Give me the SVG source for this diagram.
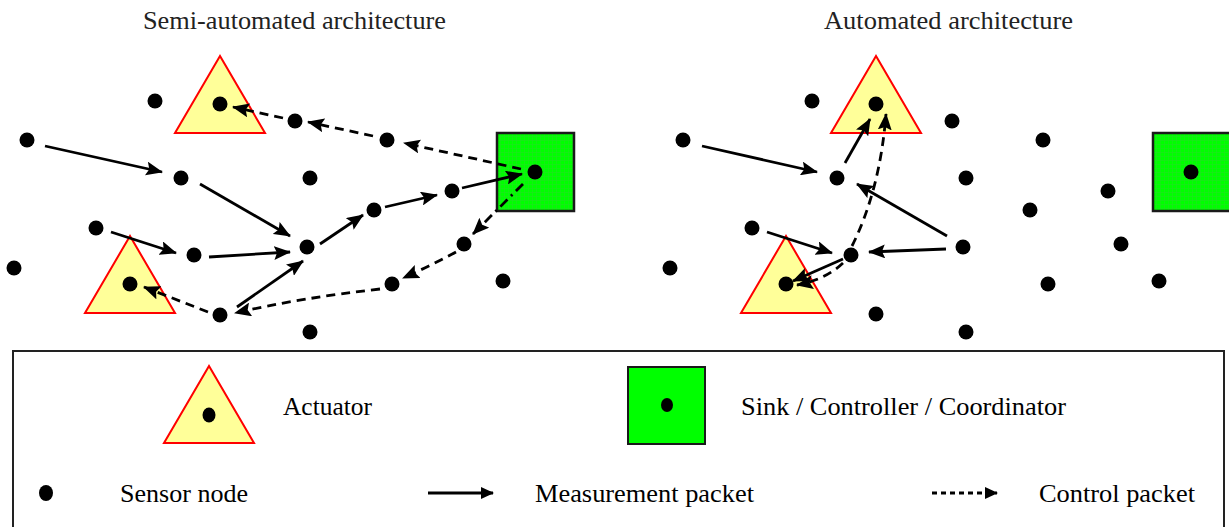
<svg xmlns="http://www.w3.org/2000/svg" width="1229" height="527" viewBox="0 0 1229 527">
<style>
text{font-family:"Liberation Serif","Times New Roman",serif}
.title{font-size:26px;fill:#222}
.lbl{font-size:26px;fill:#000}
.dot{fill:#000}
.act{fill:#ffff99;stroke:#ff0000;stroke-width:2}
.sink{fill:url(#grid);stroke:#1a1a1a;stroke-width:2.5}
.meas{fill:none;stroke:#000;stroke-width:2.8;marker-end:url(#ah)}
.ctrl{fill:none;stroke:#000;stroke-width:2.8;stroke-dasharray:9 6;marker-end:url(#ah)}
.ctrl2{fill:none;stroke:#000;stroke-width:2.8;stroke-dasharray:10 5 2 5;marker-end:url(#ah)}
</style>
<defs>
<pattern id="grid" width="4" height="4" patternUnits="userSpaceOnUse">
<rect width="4" height="4" fill="#00ff00"/>
<path d="M0,0.5H4M0.5,0V4" stroke="#22e022" stroke-width="0.6"/>
</pattern>
<marker id="ah" markerUnits="userSpaceOnUse" markerWidth="17" markerHeight="14" refX="16" refY="7" orient="auto">
<path d="M0,0 L17,7 L0,14 L3,7 z" fill="#000"/>
</marker>
<marker id="ahs" markerUnits="userSpaceOnUse" markerWidth="13" markerHeight="12" refX="12" refY="6" orient="auto">
<path d="M0,0 L13,6 L0,12 z" fill="#000"/>
</marker>
</defs>
<rect width="1229" height="527" fill="#fff"/>

<text class="title" x="143" y="29" textLength="303" lengthAdjust="spacingAndGlyphs">Semi-automated architecture</text>
<text class="title" x="824" y="29" textLength="249" lengthAdjust="spacingAndGlyphs">Automated architecture</text>

<!-- Left: semi-automated -->
<g id="left-actuator-top"><polygon class="act" points="220,56 175,133 265,133"/><circle class="dot" cx="220" cy="104" r="7.5"/></g>
<g id="left-actuator-bottom"><polygon class="act" points="130,236 85,313 175,313"/><circle class="dot" cx="130" cy="284" r="7.5"/></g>
<g id="left-sink"><rect class="sink" x="497" y="133" width="77" height="78"/><circle class="dot" cx="535" cy="172" r="7.5"/></g>
<g id="left-sensors">
<circle class="dot" cx="155" cy="101" r="7.5"/>
<circle class="dot" cx="27" cy="140" r="7.5"/>
<circle class="dot" cx="181" cy="178" r="7.5"/>
<circle class="dot" cx="96" cy="228" r="7.5"/>
<circle class="dot" cx="194" cy="255" r="7.5"/>
<circle class="dot" cx="14" cy="268" r="7.5"/>
<circle class="dot" cx="220" cy="315" r="7.5"/>
<circle class="dot" cx="295" cy="121" r="7.5"/>
<circle class="dot" cx="387" cy="140" r="7.5"/>
<circle class="dot" cx="310" cy="178" r="7.5"/>
<circle class="dot" cx="374" cy="210" r="7.5"/>
<circle class="dot" cx="452" cy="191" r="7.5"/>
<circle class="dot" cx="307" cy="247" r="7.5"/>
<circle class="dot" cx="464" cy="244" r="7.5"/>
<circle class="dot" cx="392" cy="284" r="7.5"/>
<circle class="dot" cx="503" cy="281" r="7.5"/>
<circle class="dot" cx="310" cy="332" r="7.5"/>
</g>

<!-- Right: automated -->
<g id="right-actuator-top"><polygon class="act" points="876,56 831,133 921,133"/><circle class="dot" cx="876" cy="104" r="7.5"/></g>
<g id="right-actuator-bottom"><polygon class="act" points="786,236 741,313 831,313"/><circle class="dot" cx="786" cy="284" r="7.5"/></g>
<g id="right-sink"><rect class="sink" x="1153" y="133" width="80" height="78"/><circle class="dot" cx="1191" cy="172" r="7.5"/></g>
<g id="right-sensors">
<circle class="dot" cx="812" cy="101" r="7.5"/>
<circle class="dot" cx="683" cy="140" r="7.5"/>
<circle class="dot" cx="837" cy="178" r="7.5"/>
<circle class="dot" cx="752" cy="228" r="7.5"/>
<circle class="dot" cx="851" cy="255" r="7.5"/>
<circle class="dot" cx="670" cy="268" r="7.5"/>
<circle class="dot" cx="876" cy="314" r="7.5"/>
<circle class="dot" cx="952" cy="121" r="7.5"/>
<circle class="dot" cx="966" cy="178" r="7.5"/>
<circle class="dot" cx="963" cy="247" r="7.5"/>
<circle class="dot" cx="966" cy="332" r="7.5"/>
<circle class="dot" cx="1043" cy="140" r="7.5"/>
<circle class="dot" cx="1030" cy="210" r="7.5"/>
<circle class="dot" cx="1108" cy="191" r="7.5"/>
<circle class="dot" cx="1121" cy="244" r="7.5"/>
<circle class="dot" cx="1048" cy="284" r="7.5"/>
<circle class="dot" cx="1159" cy="281" r="7.5"/>
</g>

<g id="connectors">
<!-- left measurement -->
<path class="meas" d="M45,146 L162,172"/>
<path class="meas" d="M200,184 L290,236"/>
<path class="meas" d="M111,232 L176,253"/>
<path class="meas" d="M209,257 L290,252"/>
<path class="meas" d="M237,307 L303,261"/>
<path class="meas" d="M320,244 L363,215"/>
<path class="meas" d="M385,207 L437,195"/>
<path class="meas" d="M462,188 L522,174"/>
<!-- left control -->
<path class="ctrl" d="M521,169 L404,143"/>
<path class="ctrl" d="M373,136 L308,122"/>
<path class="ctrl" d="M283,118 L233,107"/>
<path class="ctrl2" d="M523,184 L473,234"/>
<path class="ctrl" d="M456,252 Q430,266 403,278"/>
<path class="ctrl" d="M380,289 Q300,298 235,313"/>
<path class="ctrl" d="M208,312 L144,287"/>
<!-- right measurement -->
<path class="meas" d="M702,146 L817,172"/>
<path class="meas" d="M845,163 L870,119"/>
<path class="meas" d="M947,236 L857,184"/>
<path class="meas" d="M946,249 L869,252"/>
<path class="meas" d="M767,232 L832,253"/>
<path class="meas" d="M843,259 L793,281"/>
<!-- right control -->
<path class="ctrl" d="M852,246 Q880,190 886,114"/>
<path class="ctrl" d="M843,263 Q825,280 797,285"/>
</g>

<!-- Legend -->
<g id="legend">
<rect x="13" y="351" width="1211" height="200" fill="none" stroke="#222" stroke-width="2"/>
<g id="legend-actuator"><polygon class="act" points="209,366 164,443 254,443"/><ellipse class="dot" cx="209" cy="415" rx="6.5" ry="7.5"/>
<text class="lbl" x="283" y="415" textLength="89" lengthAdjust="spacingAndGlyphs">Actuator</text></g>
<g id="legend-sink"><rect x="628" y="367" width="77" height="77" fill="#00ff00" stroke="#1a1a1a" stroke-width="2"/><ellipse class="dot" cx="667" cy="405" rx="6" ry="7"/>
<text class="lbl" x="741" y="415" textLength="325" lengthAdjust="spacingAndGlyphs">Sink / Controller / Coordinator</text></g>
<g id="legend-sensor"><ellipse class="dot" cx="46" cy="493" rx="7" ry="8"/>
<text class="lbl" x="120" y="502" textLength="128" lengthAdjust="spacingAndGlyphs">Sensor node</text></g>
<g id="legend-measurement"><line x1="428" y1="493" x2="493" y2="493" stroke="#000" stroke-width="2.8" marker-end="url(#ahs)"/>
<text class="lbl" x="535" y="502" textLength="219" lengthAdjust="spacingAndGlyphs">Measurement packet</text></g>
<g id="legend-control"><line x1="932" y1="493" x2="997" y2="493" stroke="#000" stroke-width="2.8" stroke-dasharray="5 4" marker-end="url(#ahs)"/>
<text class="lbl" x="1039" y="502" textLength="156" lengthAdjust="spacingAndGlyphs">Control packet</text></g>
</g>
</svg>
